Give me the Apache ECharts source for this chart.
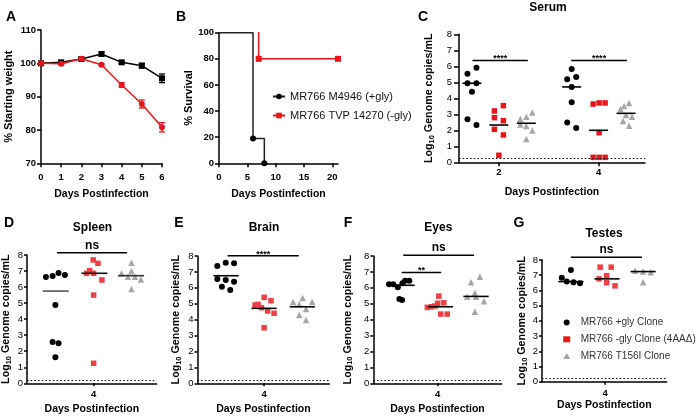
<!DOCTYPE html>
<html><head><meta charset="utf-8">
<script src="https://cdn.jsdelivr.net/npm/echarts@6.0.0/dist/echarts.min.js"></script>
<style>html,body{margin:0;padding:0;background:#fff}#c{width:696px;height:417px}</style>
</head><body><div id="c"></div>
<script>
// ---------- DATA ----------
// A: weight
const weightDays = [0,1,2,3,4,5,6];
const weightGly = [100,100.3,101.3,102.8,100.3,99.3,95.5];
const weightGlyErr = [0.2,0.3,0.3,0.6,0.4,0.7,1.3];
const weightNoGly = [100,99.9,101.4,99.6,93.5,87.8,80.8];
const weightNoGlyErr = [0.2,0.3,0.3,0.3,0.7,1.2,1.4];
// B: survival
const survDaysGly = [0,6,8];
const survGly = [100,19,0];
const survDaysNoGly = [0,7,21];
const survNoGly = [102,80,80];
const survNames = ['MR766 M4946 (+gly)','MR766 TVP 14270 (-gly)'];
// C: serum (days 2 and 4)
const serumDays = [2,4];
const serumGlyD2 = [5.54,5.91,4.94,4.94,4.41,2.69,2.33];
const serumGlyD2Jit = [-0.63,-0.45,-0.63,-0.45,-0.54,-0.63,-0.45];
const serumNoGlyD2 = [3.21,3.54,2.79,2.6,2.06,1.71,0.44];
const serumNoGlyD2Jit = [-0.09,0.09,-0.09,0.09,-0.09,0.09,0];
const serumT156D2 = [2.71,2.85,3.12,2.37,2.27,1.98,1.46];
const serumT156D2Jit = [0.43,0.55,0.67,0.43,0.55,0.67,0.55];
const serumGlyD4 = [5.83,5.19,5.33,4.71,3.75,2.48,2.14];
const serumGlyD4Jit = [-0.54,-0.63,-0.45,-0.54,-0.54,-0.63,-0.45];
const serumNoGlyD4 = [3.64,3.71,3.71,1.85,0.31,0.31,0.31];
const serumNoGlyD4Jit = [-0.11,0.01,0.13,0.01,-0.11,0.01,0.13];
const serumT156D4 = [3.33,3.71,3.52,2.96,2.85,2.58,2.29];
const serumT156D4Jit = [0.44,0.61,0.51,0.55,0.67,0.49,0.61];
const serumMedD2 = [4.94,2.33,2.44];
const serumMedD4 = [4.71,2.0,3.06];
const serumLOD = 0.28;
const serumSig = [[1.47,2.58,6.37],[3.45,4.57,6.37]];
const serumSigText = ['****','****'];
// D: spleen
const spleenGly = [6.63,6.69,6.88,6.75,4.88,2.57,2.49,1.62];
const spleenGlyJit = [-1.21,-1.04,-0.89,-0.73,-0.97,-1.04,-0.89,-0.97];
const spleenNoGly = [7.69,7.48,6.86,7.02,6.86,6.44,5.5,1.25];
const spleenNoGlyJit = [-0.01,0.11,-0.18,-0.1,0.0,0.21,0,0];
const spleenT156 = [6.86,7.52,7.0,6.65,6.65,6.48,5.88];
const spleenT156Jit = [0.71,0.96,0.96,0.87,1.05,1.2,0.96];
const spleenMed = [5.75,6.86,6.71];
const spleenSig = [[-0.93,0.85,8.14]];
const spleenSigText = ['ns'];
// E: brain
const brainGly = [7.37,7.58,7.54,6.55,6.49,6.38,6.07,5.86];
const brainGlyJit = [-1.23,-1.01,-0.79,-1.23,-1.01,-0.79,-1.11,-0.89];
const brainNoGly = [5.4,5.19,4.92,4.96,4.75,4.54,4.4,3.49];
const brainNoGlyJit = [0,0.18,-0.24,-0.16,-0.07,0.09,0.26,0];
const brainT156 = [5.11,5.36,5.13,4.96,4.67,4.29,3.98];
const brainT156Jit = [0.76,1.01,1.26,0.92,1.1,0.92,1.1];
const brainMed = [6.76,4.71,4.81];
const brainSig = [[-0.96,0.91,8.02]];
const brainSigText = ['****'];
// F: eyes
const eyesGly = [6.22,6.22,6.03,6.28,6.45,6.45,5.3,5.23];
const eyesGlyJit = [-1.27,-1.16,-1.04,-0.92,-0.85,-0.74,-1.0,-0.93];
const eyesNoGly = [4.77,4.81,4.86,5.03,5.48,5.06,4.35,4.35];
const eyesNoGlyJit = [-0.27,-0.17,-0.07,0,0.03,0.16,0.08,0.25];
const eyesT156 = [6.35,6.7,5.44,5.68,5.44,5.15,4.5];
const eyesT156Jit = [0.87,1.1,0.77,0.97,1.0,1.21,0.97];
const eyesMed = [6.16,4.81,5.46];
const eyesSig = [[-0.9,0.95,8.04],[-0.94,0.09,6.97]];
const eyesSigText = ['ns','**'];
// G: testes
const testesGly = [6.84,7.35,6.58,6.54,6.47];
const testesGlyJit = [-1.14,-0.9,-1.01,-0.83,-0.66];
const testesNoGly = [7.53,7.53,6.76,6.97,6.51,6.3];
const testesNoGlyJit = [-0.13,0.16,-0.16,0.04,0.04,0.26];
const testesT156 = [7.3,7.24,7.2,6.54];
const testesT156Jit = [0.79,1.0,1.2,1.0];
const testesMed = [6.58,6.76,7.24];
const testesSig = [[-0.9,0.97,8.18]];
const testesSigText = ['ns'];
const organLOD = 0.2;
const cloneNames = ['MR766 +gly Clone','MR766 -gly Clone (4AA\u0394)','MR766 T156I Clone'];

// ---------- STYLE / HELPERS ----------
const FONT = '"Liberation Sans", Arial, Helvetica, sans-serif';
const RED = '#e8161c', RED2 = '#ef3e44', GRAY = '#a6a6a6';
const pts = (jit, vals, base) => vals.map((v,i) => [base + jit[i], v]);

const grids = [
  {left:41, top:30, width:121, height:133.3},
  {left:219, top:32.7, width:119, height:130.6},
  {left:459, top:34.3, width:186, height:128},
  {left:25, top:255, width:131.7, height:128.3},
  {left:197.5, top:256, width:131.8, height:127.3},
  {left:373.3, top:256, width:128.4, height:127.3},
  {left:542, top:260, width:124.7, height:121.7}
];

const axLine = {show:true, onZero:false, lineStyle:{color:'#000', width:1.5}};
const nameStyle = {fontFamily:FONT, fontWeight:'bold', fontSize:10.5, color:'#000'};
function xAx(gi, o){
  return Object.assign({
    gridIndex:gi, type:'value', nameLocation:'middle', name:'Days Postinfection',
    nameTextStyle:nameStyle, axisLine:axLine, splitLine:{show:false},
    axisTick:{show:true, length:4, lineStyle:{color:'#000', width:1.5}},
    axisLabel:{fontFamily:FONT, fontWeight:'bold', fontSize:9.5, color:'#000', margin:7}
  }, o);
}
const logName = '{b|Log}{s|10}{b| Genome copies/mL}';
const logRich = {
  b:{fontFamily:FONT, fontWeight:'bold', fontSize:10.7, color:'#000', lineHeight:13},
  s:{fontFamily:FONT, fontWeight:'bold', fontSize:7.5, color:'#000', lineHeight:9, verticalAlign:'bottom'}
};
function yAx(gi, o){
  return Object.assign({
    gridIndex:gi, type:'value', nameLocation:'middle', min:0, max:8, interval:1,
    name:logName, nameTextStyle:{rich:logRich},
    axisLine:axLine, splitLine:{show:false},
    axisTick:{show:true, length:3, lineStyle:{color:'#000', width:1.5}},
    axisLabel:{fontFamily:FONT, fontSize:9.5, color:'#000', margin:4}
  }, o);
}
const organX = (gi, min, max, gap) => xAx(gi, {min:min, max:max, nameGap:gap,
  axisTick:{show:true, length:3, customValues:[0], lineStyle:{color:'#000', width:1.5}},
  axisLabel:{fontFamily:FONT, fontWeight:'bold', fontSize:9.5, color:'#000', margin:6.5, customValues:[0], formatter:()=>'4'}});

const xAxes = [
  xAx(0, {min:0, max:6, interval:1, nameGap:25, axisLabel:{fontFamily:FONT, fontWeight:'bold', fontSize:9.5, color:'#000', margin:9}}),
  xAx(1, {min:0, max:21, nameGap:25,
    axisTick:{show:true, length:4, customValues:[0,5,10,15,20], lineStyle:{color:'#000', width:1.5}},
    axisLabel:{fontFamily:FONT, fontWeight:'bold', fontSize:9.5, color:'#000', margin:9, customValues:[0,5,10,15,20]}}),
  xAx(2, {min:1.2, max:4.93, nameGap:24.5,
    axisTick:{show:true, length:4, customValues:serumDays, lineStyle:{color:'#000', width:1.5}},
    axisLabel:{fontFamily:FONT, fontWeight:'bold', fontSize:9.5, color:'#000', margin:5, customValues:serumDays}}),
  organX(3, -1.69, 1.6, 20),
  organX(4, -1.75, 1.71, 20.5),
  organX(5, -1.68, 1.67, 20),
  organX(6, -1.66, 1.62, 17.5)
];
const yAxes = [
  yAx(0, {min:70, max:110, interval:10, name:'% Starting weight', nameGap:27, nameTextStyle:Object.assign({}, nameStyle, {fontSize:11}),
    axisTick:{show:true, length:4, lineStyle:{color:'#000', width:1.5}},
    axisLabel:{fontFamily:FONT, fontWeight:'bold', fontSize:9.5, color:'#000', margin:5}}),
  yAx(1, {min:0, max:100, interval:20, name:'% Survival', nameGap:23, nameTextStyle:Object.assign({}, nameStyle, {fontSize:11}),
    axisTick:{show:true, length:4, lineStyle:{color:'#000', width:1.5}},
    axisLabel:{fontFamily:FONT, fontWeight:'bold', fontSize:9.5, color:'#000', margin:5}}),
  yAx(2, {nameGap:23, axisTick:{show:true, length:5, lineStyle:{color:'#000', width:1.5}}, axisLabel:{fontFamily:FONT, fontSize:9.5, color:'#000', margin:7}}),
  yAx(3, {nameGap:14}),
  yAx(4, {nameGap:15}),
  yAx(5, {nameGap:19}),
  yAx(6, {nameGap:11.5})
];

function errRender(color){
  return function(params, api){
    const x = api.value(0), y = api.value(1), e = api.value(2);
    const top = api.coord([x, y + e]), bot = api.coord([x, y - e]);
    const w = 3;
    return {type:'group', children:[
      {type:'line', shape:{x1:top[0], y1:top[1], x2:bot[0], y2:bot[1]}, style:{stroke:color, lineWidth:1.3}},
      {type:'line', shape:{x1:top[0]-w, y1:top[1], x2:top[0]+w, y2:top[1]}, style:{stroke:color, lineWidth:1.3}},
      {type:'line', shape:{x1:bot[0]-w, y1:bot[1], x2:bot[0]+w, y2:bot[1]}, style:{stroke:color, lineWidth:1.3}}
    ]};
  };
}
function medRender(hw, colors){
  return function(params, api){
    const x = api.value(0), y = api.value(1);
    const a = api.coord([x - hw, y]), b = api.coord([x + hw, y]);
    return {type:'line', shape:{x1:a[0], y1:a[1], x2:b[0], y2:b[1]},
      style:{stroke: colors ? colors[params.dataIndex % colors.length] : '#000', lineWidth:1.6}};
  };
}
function sigRender(labels){
  return function(params, api){
    const y = api.value(2);
    const a = api.coord([api.value(0), y]), b = api.coord([api.value(1), y]);
    const t = labels[params.dataIndex];
    const star = t.indexOf('*') >= 0;
    return {type:'group', children:[
      {type:'line', shape:{x1:a[0], y1:a[1], x2:b[0], y2:b[1]}, style:{stroke:'#000', lineWidth:1.5}},
      {type:'text', x:(a[0]+b[0])/2, y:a[1] + (star ? 3 : -1.5),
        style:{text:t, align:'center', verticalAlign:'bottom', fill:'#000',
          font: star ? 'bold 9px ' + FONT : 'bold 12px ' + FONT}}
    ]};
  };
}

const series = [];
// A
series.push({type:'custom', xAxisIndex:0, yAxisIndex:0, encode:{x:0, y:1}, z:2,
  data: weightDays.map((d,i)=>[d, weightGly[i], weightGlyErr[i]]), renderItem: errRender('#000')});
series.push({type:'custom', xAxisIndex:0, yAxisIndex:0, encode:{x:0, y:1}, z:2,
  data: weightDays.map((d,i)=>[d, weightNoGly[i], weightNoGlyErr[i]]), renderItem: errRender(RED)});
series.push({type:'line', name:'A +gly', xAxisIndex:0, yAxisIndex:0, z:3,
  data: weightDays.map((d,i)=>[d, weightGly[i]]), symbol:'rect', symbolSize:6,
  itemStyle:{color:'#000'}, lineStyle:{color:'#000', width:1.5}});
series.push({type:'line', name:'A -gly', xAxisIndex:0, yAxisIndex:0, z:4,
  data: weightDays.map((d,i)=>[d, weightNoGly[i]]), symbol:'circle', symbolSize:6,
  itemStyle:{color:RED}, lineStyle:{color:RED, width:1.5}});
// B
series.push({type:'line', name:survNames[1], xAxisIndex:1, yAxisIndex:1, step:'end', z:3,
  data: survDaysNoGly.map((d,i)=> i===0 ? {value:[d, survNoGly[i]], symbol:'none'} : [d, survNoGly[i]]),
  symbol:'rect', symbolSize:6, itemStyle:{color:RED}, lineStyle:{color:RED, width:1.5}});
series.push({type:'line', name:survNames[0], xAxisIndex:1, yAxisIndex:1, step:'end', z:4,
  data: survDaysGly.map((d,i)=> i===0 ? {value:[d, survGly[i]], symbol:'none'} : [d, survGly[i]]),
  symbol:'circle', symbolSize:6, itemStyle:{color:'#000'}, lineStyle:{color:'#222', width:1.5}});

// scatter panels
function scatterPanel(ai, groups, medData, hw, sig, sigText, lod, medColors, red){
  const syms = [['circle',6,'#000'],['rect',5.5,red],['triangle',6.5,GRAY]];
  groups.forEach((g, k) => {
    const s = {type:'scatter', name:cloneNames[k], xAxisIndex:ai, yAxisIndex:ai, z:3,
      data:g, symbol:syms[k][0], symbolSize:syms[k][1], itemStyle:{color:syms[k][2], opacity:1}};
    if (k === 0) s.markLine = {silent:true, symbol:'none', animation:false, label:{show:false},
      lineStyle:{color:'#000', width:1.2, type:[1.5,2.2]}, data:[{yAxis:lod}]};
    series.push(s);
  });
  series.push({type:'custom', xAxisIndex:ai, yAxisIndex:ai, z:5, encode:{x:0, y:1},
    data:medData, renderItem:medRender(hw, medColors)});
  series.push({type:'custom', xAxisIndex:ai, yAxisIndex:ai, z:5, clip:false, encode:{x:[0,1], y:2},
    data:sig, renderItem:sigRender(sigText)});
}
const serumCenters = [-0.54, 0, 0.55];
scatterPanel(2, [
  pts(serumGlyD2Jit, serumGlyD2, 2).concat(pts(serumGlyD4Jit, serumGlyD4, 4)),
  pts(serumNoGlyD2Jit, serumNoGlyD2, 2).concat(pts(serumNoGlyD4Jit, serumNoGlyD4, 4)),
  pts(serumT156D2Jit, serumT156D2, 2).concat(pts(serumT156D4Jit, serumT156D4, 4))
], serumMedD2.map((m,k)=>[2+serumCenters[k], m]).concat(serumMedD4.map((m,k)=>[4+serumCenters[k], m])),
  0.19, serumSig, serumSigText, serumLOD, null, RED);
const organ = (ai, gly, gj, no, nj, t, tj, med, centers, sig, sigText, medColors) =>
  scatterPanel(ai, [pts(gj, gly, 0), pts(nj, no, 0), pts(tj, t, 0)],
    med.map((m,k)=>[centers[k], m]), 0.33, sig, sigText, organLOD, medColors, RED2);
organ(3, spleenGly, spleenGlyJit, spleenNoGly, spleenNoGlyJit, spleenT156, spleenT156Jit, spleenMed, [-0.96,0.02,0.95], spleenSig, spleenSigText, ['#555','#111','#333']);
organ(4, brainGly, brainGlyJit, brainNoGly, brainNoGlyJit, brainT156, brainT156Jit, brainMed, [-1.0,0,1.0], brainSig, brainSigText, null);
organ(5, eyesGly, eyesGlyJit, eyesNoGly, eyesNoGlyJit, eyesT156, eyesT156Jit, eyesMed, [-0.93,0.07,1.0], eyesSig, eyesSigText, null);
organ(6, testesGly, testesGlyJit, testesNoGly, testesNoGlyJit, testesT156, testesT156Jit, testesMed, [-0.9,0.05,1.0], testesSig, testesSigText, null);

const txt = (x, y, t, size) => ({type:'text', x:x, y:y, silent:true,
  style:{text:t, align:'center', verticalAlign:'middle', font:'bold ' + size + 'px ' + FONT, fill:'#000'}});

const option = {
  animation:false,
  backgroundColor:'#fff',
  grid:grids,
  xAxis:xAxes,
  yAxis:yAxes,
  legend:[
    {data:survNames, left:267, top:86, padding:5, orient:'vertical', itemWidth:12, itemHeight:7, itemGap:8,
      selectedMode:false, textStyle:{fontFamily:FONT, fontSize:11, color:'#111'}},
    {data:cloneNames, left:558.2, top:312.5, padding:5, orient:'vertical', itemWidth:7, itemHeight:6, itemGap:6.8,
      selectedMode:false, textStyle:{fontFamily:FONT, fontSize:10, color:'#333', padding:[0,0,0,5.5]}}
  ],
  graphic:[
    txt(11,17,'A',14), txt(181,17,'B',14), txt(423,17,'C',14),
    txt(9,223.5,'D',14), txt(179,223.5,'E',14), txt(348,223.5,'F',14), txt(519,223.5,'G',14),
    txt(548,7.5,'Serum',12), txt(92.5,227.5,'Spleen',12), txt(264,227.5,'Brain',12),
    txt(438.3,228,'Eyes',12), txt(604,234,'Testes',12)
  ],
  series:series
};
echarts.init(document.getElementById('c'), null, {renderer:'canvas'}).setOption(option);
</script>
</body></html>
